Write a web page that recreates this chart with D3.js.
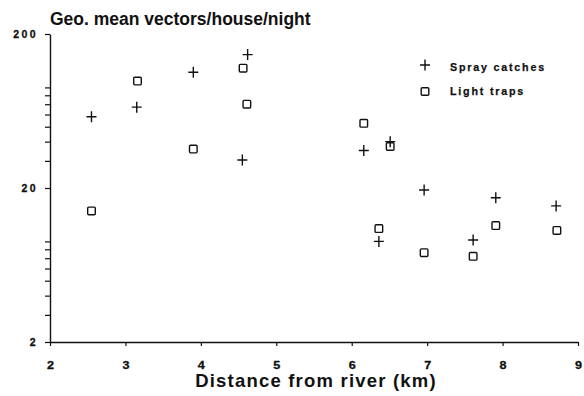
<!DOCTYPE html>
<html>
<head>
<meta charset="utf-8">
<script src="https://cdn.jsdelivr.net/npm/d3@7/dist/d3.min.js"></script>
<style>
  html, body { margin: 0; padding: 0; background: #fff; }
  svg { display: block; font-family: "Liberation Sans", Arial, Helvetica, sans-serif; }
  .axis text { font-weight: bold; fill: #111; }
</style>
</head>
<body>
<svg id="chart" width="584" height="396"></svg>
<script>
// Distance from river (km) and geometric mean vectors per house per night
const sprayDistance = [2.55, 3.15, 3.90, 4.62, 4.55, 6.16, 6.51, 6.96, 7.91, 8.71, 6.36, 7.61];
const sprayCatches  = [58, 67, 113, 147, 30.4, 35, 40, 19.4, 17.3, 15.3, 9.0, 9.2];

const trapDistance = [2.55, 3.16, 3.90, 4.56, 4.61, 6.16, 6.51, 6.36, 6.96, 7.61, 7.91, 8.72];
const lightTraps   = [14.2, 99, 35.8, 120, 70, 52.6, 37.2, 10.9, 7.6, 7.2, 11.4, 10.6];

const xTicks = [2, 3, 4, 5, 6, 7, 8, 9];
const yMajorTicks = [2, 20, 200];
const yMinorTicks = [3, 4, 5, 6, 7, 8, 9, 30, 40, 50, 60, 70, 80, 90];

const seriesNames = ["Spray catches", "Light traps"];

const svg = d3.select("#chart");
const ink = "#111";

const x = d3.scaleLinear().domain([2, 9]).range([50, 578]);
const y = d3.scaleLog().domain([2, 200]).range([342, 34]);

// Title
svg.append("text")
  .attr("x", 50).attr("y", 25)
  .attr("font-size", 17.5).attr("font-weight", "bold").attr("fill", ink)
  .text("Geo. mean vectors/house/night");

// Y axis (log scale, labelled decades only)
const yAxis = svg.append("g").attr("class", "axis")
  .attr("transform", `translate(${x(2)},0)`)
  .call(d3.axisLeft(y)
    .tickValues(yMajorTicks.concat(yMinorTicks))
    .tickFormat(d => yMajorTicks.includes(d) ? d3.format("d")(d) : "")
    .tickSize(5).tickSizeOuter(0).tickPadding(7));
yAxis.selectAll("text")
  .attr("font-size", 10.5).attr("letter-spacing", 2.4).attr("dy", "0.36em")
  .attr("stroke", ink).attr("stroke-width", 0.3);
yAxis.selectAll("line").attr("stroke", ink).attr("stroke-width", 1.2);
yAxis.select(".domain").attr("stroke", ink).attr("stroke-width", 1.4);

// X axis
const xAxis = svg.append("g").attr("class", "axis")
  .attr("transform", `translate(0,${y(2)})`)
  .call(d3.axisBottom(x)
    .tickValues(xTicks)
    .tickFormat(d3.format("d"))
    .tickSize(4).tickSizeOuter(0).tickPadding(16));
// widen each digit about its own centre
xAxis.selectAll("text")
  .attr("font-size", 10.5).attr("transform", "scale(1.2,1)")
  .attr("stroke", ink).attr("stroke-width", 0.3);
xAxis.selectAll("line").attr("stroke", ink).attr("stroke-width", 1.2);
xAxis.select(".domain").attr("stroke", ink).attr("stroke-width", 1.4);

// X axis title
svg.append("text")
  .attr("x", 316).attr("y", 387)
  .attr("text-anchor", "middle")
  .attr("font-size", 18.5).attr("font-weight", "bold").attr("fill", ink)
  .attr("letter-spacing", 1.2)
  .text("Distance from river (km)");

// Marker shapes
function drawPlus(g, cx, cy) {
  g.append("path")
    .attr("d", `M${cx - 5},${cy}H${cx + 5}M${cx},${cy - 5.5}V${cy + 5.5}`)
    .attr("stroke", ink).attr("stroke-width", 1.4).attr("fill", "none");
}
function drawSquare(g, cx, cy) {
  g.append("rect")
    .attr("x", cx - 3.8).attr("y", cy - 3.8)
    .attr("width", 7.6).attr("height", 7.6).attr("rx", 1)
    .attr("stroke", ink).attr("stroke-width", 1.4).attr("fill", "none");
}

const pts = svg.append("g");
lightTraps.forEach((v, i) => drawSquare(pts, x(trapDistance[i]), y(v)));
sprayCatches.forEach((v, i) => drawPlus(pts, x(sprayDistance[i]), y(v)));

// Legend
const legend = svg.append("g");
drawPlus(legend, 425, 65);
drawSquare(legend, 425, 91.5);
legend.selectAll("text.lab").data(seriesNames).join("text")
  .attr("class", "lab")
  .attr("x", 450).attr("y", (d, i) => 71 + i * 24)
  .attr("font-size", 10.7).attr("font-weight", "bold")
  .attr("letter-spacing", 1.8).attr("fill", ink)
  .attr("stroke", ink).attr("stroke-width", 0.25)
  .text(d => d);
</script>
</body>
</html>
